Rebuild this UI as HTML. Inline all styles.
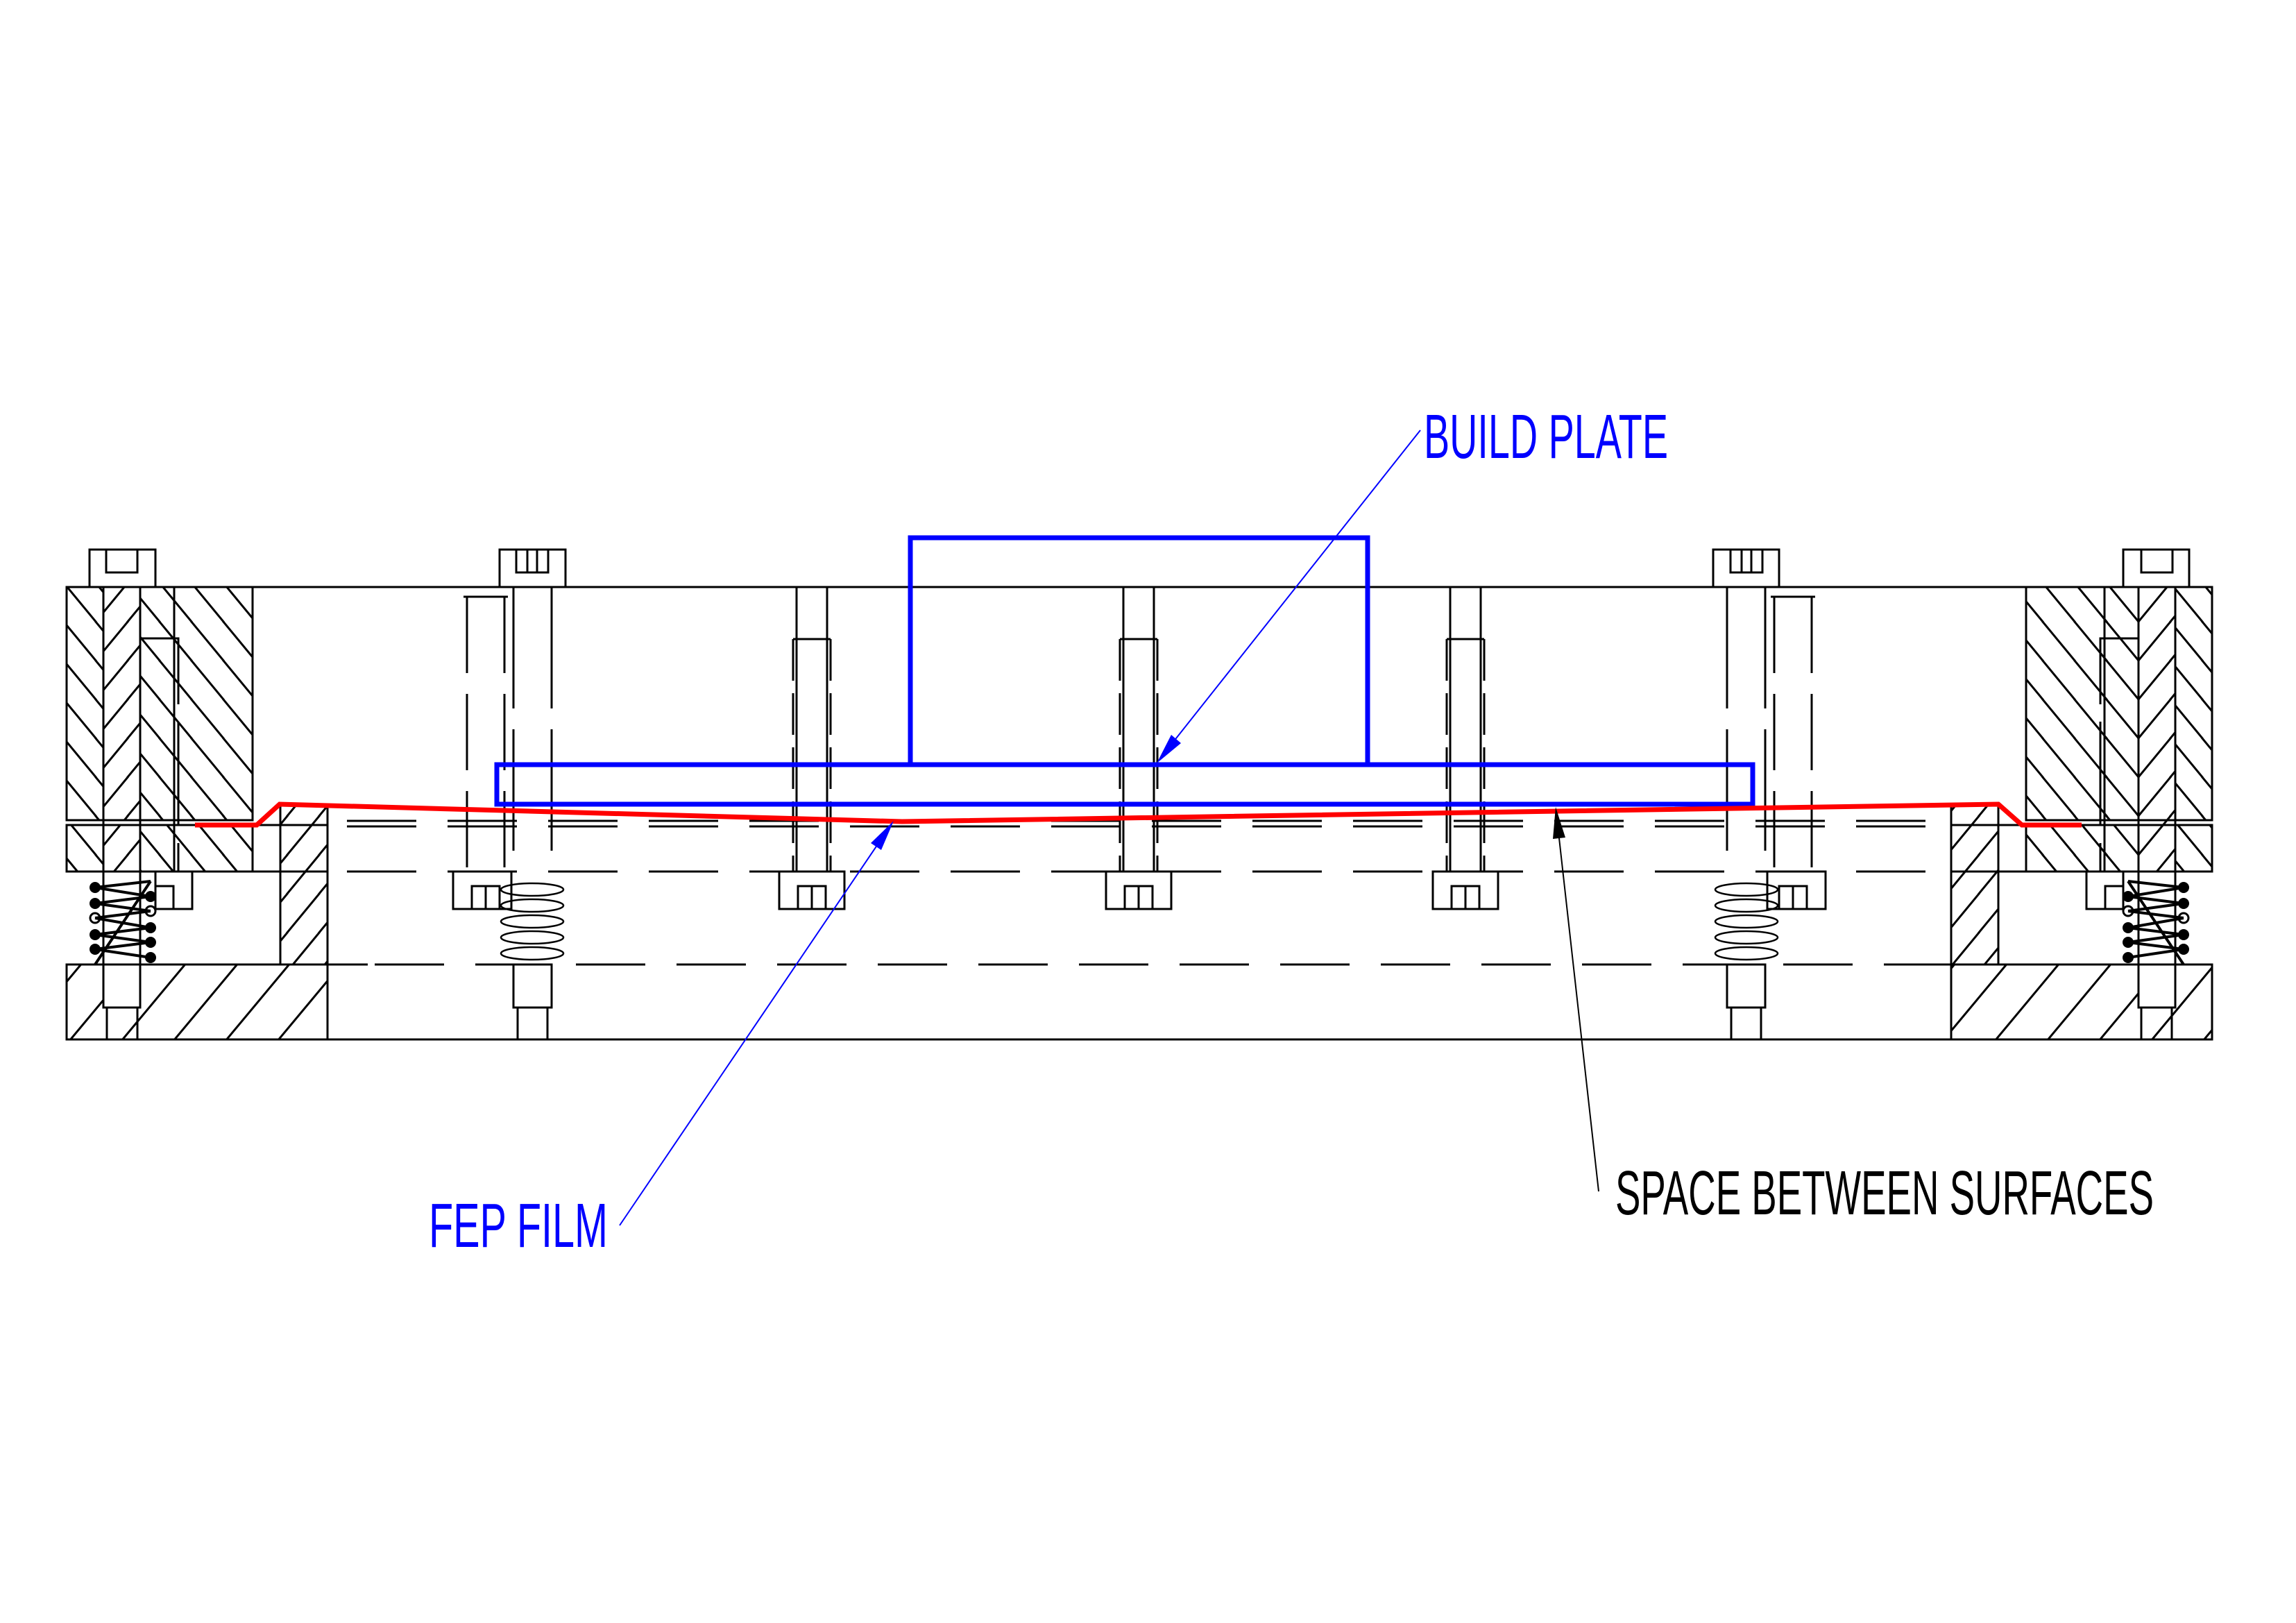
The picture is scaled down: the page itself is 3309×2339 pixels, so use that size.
<!DOCTYPE html>
<html><head><meta charset="utf-8"><style>html,body{margin:0;padding:0;background:#fff}svg{display:block}</style></head>
<body>
<svg width="3309" height="2339" viewBox="0 0 3309 2339" xmlns="http://www.w3.org/2000/svg">
<defs>
<pattern id="hb" patternUnits="userSpaceOnUse" width="46" height="56"><path d="M-10,-12 L56,68 M-56,-12 L10,68 M36,-12 L102,68" stroke="#000" stroke-width="3"/></pattern>
<pattern id="hf" patternUnits="userSpaceOnUse" width="46" height="56"><path d="M56,-12 L-10,68 M102,-12 L36,68 M10,-12 L-56,68" stroke="#000" stroke-width="3"/></pattern>
<pattern id="hw" patternUnits="userSpaceOnUse" width="75" height="90"><path d="M90,-18 L-15,108 M165,-18 L60,108 M15,-18 L-90,108" stroke="#000" stroke-width="3"/></pattern>
<g id="half" fill="none" stroke="#000" stroke-width="3">
  <rect x="96" y="846" width="268" height="336"/>
  <rect x="149" y="846" width="53" height="336"/>
  <rect x="96" y="1189" width="268" height="67"/>
  <line x1="96" y1="1189" x2="472" y2="1189"/>
  <line x1="96" y1="1256" x2="472" y2="1256"/>
  <rect x="404" y="1159" width="68" height="231"/>
  <rect x="96" y="1390" width="376" height="108"/>
  <line x1="472" y1="1390" x2="530" y2="1390"/>
  <line x1="251" y1="846" x2="251" y2="1256"/>
  <polyline points="202,920 257,920 257,1256" stroke-dasharray="150 25"/>
  <rect x="129" y="792" width="95" height="54" fill="#fff"/>
  <rect x="153" y="792" width="45" height="33"/>
  <line x1="149" y1="846" x2="149" y2="1390"/><line x1="202" y1="846" x2="202" y2="1390"/>
  <rect x="224" y="1256" width="53" height="54" fill="#fff"/>
  <rect x="224" y="1277" width="26" height="33"/>
  <rect x="149" y="1390" width="53" height="62" fill="#fff"/>
  <line x1="154" y1="1452" x2="154" y2="1498"/><line x1="198" y1="1452" x2="198" y2="1498"/>
  <g stroke-width="4">
    <line x1="137" y1="1279" x2="217" y2="1292"/><line x1="137" y1="1302" x2="217" y2="1313"/>
    <line x1="137" y1="1323" x2="217" y2="1337"/><line x1="137" y1="1347" x2="217" y2="1358"/>
    <line x1="137" y1="1368" x2="217" y2="1380"/><line x1="137" y1="1390" x2="217" y2="1270"/>
    <line x1="137" y1="1279" x2="217" y2="1270"/><line x1="137" y1="1302" x2="217" y2="1292"/>
    <line x1="137" y1="1323" x2="217" y2="1313"/><line x1="137" y1="1347" x2="217" y2="1337"/>
    <line x1="137" y1="1368" x2="217" y2="1358"/>
  </g>
  <g fill="#000" stroke="none">
    <circle cx="137" cy="1279" r="8"/><circle cx="137" cy="1302" r="8"/><circle cx="137" cy="1347" r="8"/><circle cx="137" cy="1368" r="8"/>
    <circle cx="217" cy="1292" r="8"/><circle cx="217" cy="1337" r="8"/><circle cx="217" cy="1358" r="8"/><circle cx="217" cy="1380" r="8"/>
  </g>
  <circle cx="137" cy="1323" r="7"/><circle cx="217" cy="1313" r="7"/>
  <rect x="720" y="792" width="95" height="54" fill="#fff"/>
  <rect x="744" y="792" width="46" height="33"/>
  <line x1="760" y1="792" x2="760" y2="825"/><line x1="774" y1="792" x2="774" y2="825"/>
  <line x1="740" y1="846" x2="740" y2="1256" stroke-dasharray="175 30"/>
  <line x1="795" y1="846" x2="795" y2="1256" stroke-dasharray="175 30"/>
  <line x1="673" y1="860" x2="673" y2="1256" stroke-dasharray="110 30"/>
  <line x1="727" y1="860" x2="727" y2="1256" stroke-dasharray="110 30"/>
  <line x1="668" y1="860" x2="732" y2="860"/>
  <rect x="653" y="1256" width="84" height="54" fill="#fff"/>
  <rect x="680" y="1277" width="40" height="33"/><line x1="700" y1="1277" x2="700" y2="1310"/>
  <g stroke-width="2.5">
    <ellipse cx="767" cy="1282" rx="45" ry="9"/><ellipse cx="767" cy="1305" rx="45" ry="9"/>
    <ellipse cx="767" cy="1328" rx="45" ry="9"/><ellipse cx="767" cy="1351" rx="45" ry="9"/>
    <ellipse cx="767" cy="1374" rx="45" ry="9"/>
  </g>
  <rect x="740" y="1390" width="55" height="62" fill="#fff"/>
  <line x1="746" y1="1452" x2="746" y2="1498"/><line x1="789" y1="1452" x2="789" y2="1498"/>
</g>
<g id="mb" fill="none" stroke="#000" stroke-width="3">
  <line x1="-22" y1="846" x2="-22" y2="1256"/><line x1="22" y1="846" x2="22" y2="1256"/>
  <line x1="-27" y1="921" x2="-27" y2="1256" stroke-dasharray="60 18"/>
  <line x1="27" y1="921" x2="27" y2="1256" stroke-dasharray="60 18"/>
  <line x1="-27" y1="921" x2="27" y2="921"/>
  <rect x="-47" y="1256" width="94" height="54" fill="#fff"/>
  <rect x="-20" y="1277" width="40" height="33"/><line x1="0" y1="1277" x2="0" y2="1310"/>
</g>
</defs>
<rect width="3309" height="2339" fill="#fff"/>
<g stroke="none">
  <rect x="96" y="846" width="268" height="336" fill="url(#hb)"/>
  <rect x="149" y="846" width="53" height="336" fill="#fff"/>
  <rect x="149" y="846" width="53" height="336" fill="url(#hf)"/>
  <rect x="96" y="1189" width="268" height="67" fill="url(#hb)"/>
  <rect x="149" y="1189" width="53" height="67" fill="#fff"/>
  <rect x="149" y="1189" width="53" height="67" fill="url(#hf)"/>
  <rect x="404" y="1159" width="68" height="231" fill="url(#hf)"/>
  <rect x="96" y="1390" width="376" height="108" fill="url(#hw)"/>
  <rect x="2920" y="846" width="268" height="336" fill="url(#hb)"/>
  <rect x="2920" y="1189" width="268" height="67" fill="url(#hb)"/>
  <rect x="3082" y="846" width="53" height="410" fill="#fff"/>
  <rect x="3082" y="846" width="53" height="410" fill="url(#hf)"/>
  <rect x="2812" y="1159" width="68" height="231" fill="url(#hf)"/>
  <rect x="2812" y="1390" width="376" height="108" fill="url(#hw)"/>
</g>
<g fill="none" stroke="#000" stroke-width="3">
  <line x1="96" y1="846" x2="3188" y2="846"/>
  <line x1="96" y1="1498" x2="3188" y2="1498"/>
  <line x1="96" y1="1182" x2="364" y2="1182"/><line x1="2920" y1="1182" x2="3188" y2="1182"/>
  <g stroke-dasharray="100 45">
    <line x1="500" y1="1183" x2="2800" y2="1183"/>
    <line x1="500" y1="1191" x2="2800" y2="1191"/>
    <line x1="500" y1="1256" x2="2800" y2="1256"/>
    <line x1="540" y1="1390" x2="2770" y2="1390"/>
  </g>
</g>
<use href="#half"/>
<use href="#half" transform="translate(3284,0) scale(-1,1)"/>
<use href="#mb" x="1170"/><use href="#mb" x="1641"/><use href="#mb" x="2112"/>
<g fill="none" stroke="#0000ff" stroke-width="7">
  <rect x="1312" y="775" width="659" height="327"/>
  <rect x="716" y="1102" width="1810" height="57"/>
</g>
<polyline points="281,1189 370,1189 403,1159 1300,1184 2880,1159 2914,1189 3000,1189" fill="none" stroke="#ff0000" stroke-width="7"/>
<g stroke-width="2">
  <line x1="2047" y1="620" x2="1680" y2="1083" stroke="#0000ff"/>
  <polygon points="1667,1100 1702,1071 1688,1059" fill="#0000ff"/>
  <line x1="893" y1="1766" x2="1275" y2="1202" stroke="#0000ff"/>
  <polygon points="1288,1183 1270,1225 1255,1215" fill="#0000ff"/>
  <line x1="2304" y1="1717" x2="2245" y2="1190" stroke="#000"/>
  <polygon points="2242,1163 2256,1207 2238,1209" fill="#000"/>
</g>
<g font-family="'Liberation Sans', sans-serif" font-size="90">
  <text x="2052" y="660" fill="#0000ff" textLength="352" lengthAdjust="spacingAndGlyphs">BUILD PLATE</text>
  <text x="618" y="1797" fill="#0000ff" textLength="258" lengthAdjust="spacingAndGlyphs">FEP FILM</text>
  <text x="2328" y="1750" fill="#000" textLength="776" lengthAdjust="spacingAndGlyphs">SPACE BETWEEN SURFACES</text>
</g>
</svg>
</body></html>
